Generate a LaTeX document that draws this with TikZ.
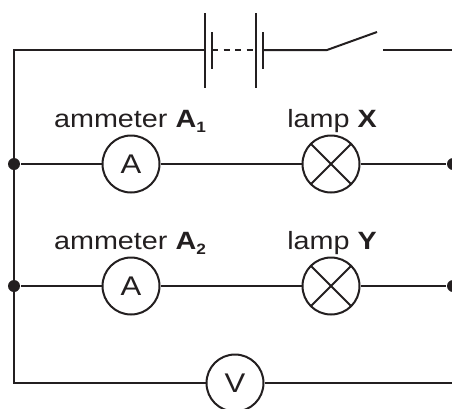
\documentclass[tikz,border=0pt]{standalone}
\usepackage{fontspec}
\setmainfont{Liberation Sans}[FakeStretch=1.15]
\usetikzlibrary{positioning}
\definecolor{ink}{HTML}{231F20}
\newcommand{\wirew}{2pt}
\newcommand{\meterd}{57pt}
\newcommand{\lowsub}[1]{\raisebox{-5.5pt}{\fontsize{15}{15}\selectfont #1}}

\begin{document}
\begin{tikzpicture}[x=1pt,y=-1pt,line width=\wirew,draw=ink,text=ink,
    meter/.style={circle,draw,minimum size=\meterd,inner sep=0pt,font=\fontsize{27}{30}\selectfont},
    lamp/.style={meter,path picture={
        \draw (path picture bounding box.north west) -- (path picture bounding box.south east);
        \draw (path picture bounding box.north east) -- (path picture bounding box.south west);}},
    junction/.style={circle,fill=ink,inner sep=0pt,minimum size=12pt},
    lbl/.style={anchor=base,inner sep=0pt,font=\fontsize{25}{30}\selectfont}]
    %\draw[help lines] (0,0) grid[step=50] (452,408);
    \useasboundingbox (0,0) rectangle (452,408);
        \coordinate (tl) at (14,50);
        \coordinate (tr) at (452,50);
        \coordinate (bl) at (14,383);
        \coordinate (br) at (452,383);
        \node[junction] (j1) at (14,164) {};
        \node[junction] (j2) at (14,286) {};
        \node[junction] (k1) at (453,164) {};
        \node[junction] (k2) at (453,286) {};
        \node[meter] (a1) at (131,164) {A};
        \node[lamp] (x) at (331,164) {};
        \node[meter] (a2) at (131,286) {A};
        \node[lamp] (y) at (331,286) {};
        \node[meter] (v) at (235,383) {V};
        \node[lbl] (la1) at (130,127) {ammeter \textbf{A\lowsub{1}}};
        \node[lbl] (lx) at (332,127) {lamp \textbf{X}};
        \node[lbl] (la2) at (130,249) {ammeter \textbf{A\lowsub{2}}};
        \node[lbl] (ly) at (332,249) {lamp \textbf{Y}};
        % battery and switch
        \coordinate (p1) at (205,50);
        \coordinate (q1) at (212,50);
        \coordinate (p2) at (256,50);
        \coordinate (q2) at (263,50);
        \coordinate (s1) at (327,50);
        \coordinate (s2) at (377,32);
        \coordinate (s3) at (383,50);
        \draw (205,13) -- (205,88);
        \draw (212,32) -- (212,69);
        \draw (256,13) -- (256,88);
        \draw (263,32) -- (263,69);
        \draw[dash pattern=on 6pt off 5.5pt] (q1) -- (p2);
        \draw (p1) -- (tl) -- (bl) -- (v) -- (br);
        \draw (q2) -- (s1) -- (s2);
        \draw (s3) -- (tr);
        \draw (j1) -- (a1) -- (x) -- (k1);
        \draw (j2) -- (a2) -- (y) -- (k2);
    \end{tikzpicture}
\end{document}
